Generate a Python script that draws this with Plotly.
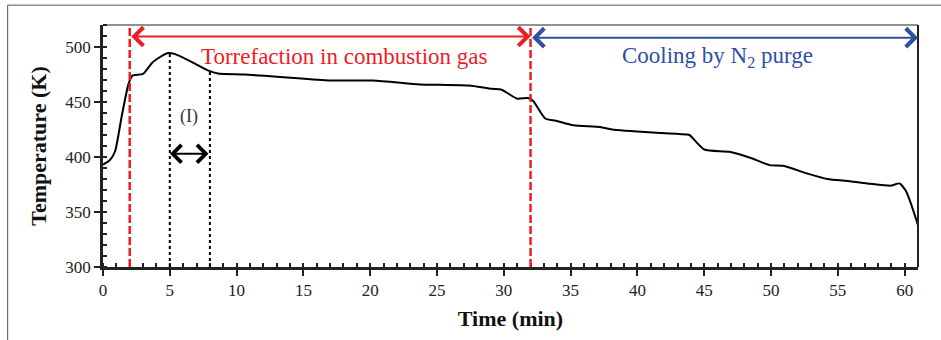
import plotly.graph_objects as go

# ---- data ----
time_min = [0, 0.5, 0.9, 1.4, 1.9, 2.2, 3.0, 3.7, 4.8, 5.4, 6.7, 7.9, 8.6, 10.6, 13.5, 17.0,
            20.2, 23.7, 25.2, 27.4, 29.1, 29.8, 31.0, 31.8, 32.2, 33.1, 33.9, 35.2, 37.2, 38.1,
            41.4, 43.7, 43.9, 45.0, 46.9, 48.6, 49.9, 50.9, 52.7, 54.2, 55.9, 57.4, 59.0,
            59.6, 60.1, 61.0]
temp_K = [393, 397, 405, 437, 466, 474, 475.5, 486, 494.3, 493.5, 486, 478.5, 476, 475, 472.5,
          469.5, 469.5, 466, 465.6, 465, 462, 461.4, 453, 453.6, 451, 435, 433, 428.8, 427.3,
          425, 422, 420.4, 420, 406.8, 404.7, 398.6, 392.6, 392, 385, 380, 378, 375.7, 374,
          376, 369, 338]

phase_bounds = [2, 32, 61]          # torrefaction start, cooling start, end
region_I = [5, 8]                   # region (I) boundaries
region_I_top = [494.3, 478.5]
x_ticks = list(range(0, 61, 5))
y_ticks = list(range(300, 501, 50))

RED = "#EE1C25"
BLUE = "#2E4FA3"
SERIF = "Liberation Serif, Times New Roman, serif"

fig = go.Figure()
fig.add_trace(go.Scatter(x=time_min, y=temp_K, mode="lines",
                         line=dict(color="black", width=2, shape="spline", smoothing=0.6),
                         showlegend=False, hoverinfo="skip"))

shapes = []
# red dashed phase boundaries
for xv in phase_bounds[:2]:
    shapes.append(dict(type="line", xref="x", yref="paper", x0=xv, x1=xv, y0=0, y1=1,
                       line=dict(color=RED, width=2.5, dash="8px,3px")))
# dotted region (I) lines
for xv, yt in zip(region_I, region_I_top):
    shapes.append(dict(type="line", xref="x", yref="y", x0=xv, x1=xv, y0=300, y1=yt,
                       line=dict(color="black", width=2, dash="dot")))
# top (thin) and right plot borders
shapes.append(dict(type="line", xref="paper", yref="paper", x0=0, x1=1, y0=1, y1=1,
                   line=dict(color="#222", width=1)))
shapes.append(dict(type="line", xref="paper", yref="paper", x0=1, x1=1, y0=0, y1=1,
                   line=dict(color="#222", width=2)))
# outer frame (top + left)
shapes.append(dict(type="line", xref="paper", yref="paper", x0=-0.117, x1=1.1, y0=1.082, y1=1.082,
                   line=dict(color="#555", width=1)))
shapes.append(dict(type="line", xref="paper", yref="paper", x0=-0.117, x1=-0.117, y0=1.082, y1=-0.4,
                   line=dict(color="#555", width=1)))

annotations = []
def darrow(x0, x1, y, color, size=1.8, width=2):
    annotations.append(dict(x=x1, y=y, ax=x0, ay=y, xref="x", yref="y", axref="x", ayref="y",
                            text="", showarrow=True, arrowhead=4, startarrowhead=4,
                            arrowside="end+start", arrowsize=size, startarrowsize=size,
                            arrowwidth=width, arrowcolor=color, standoff=0, startstandoff=0))

darrow(phase_bounds[0], phase_bounds[1], 509.5, RED)
darrow(phase_bounds[1], phase_bounds[2], 508.5, BLUE)
darrow(4.9, 7.9, 403, "black", size=1.7)

annotations.append(dict(x=18.1, y=491, xref="x", yref="y", text="Torrefaction in combustion gas",
                        showarrow=False, font=dict(family=SERIF, size=23, color=RED)))
annotations.append(dict(x=46.0, y=491, xref="x", yref="y", text="Cooling by N<sub>2</sub> purge",
                        showarrow=False, font=dict(family=SERIF, size=23, color=BLUE)))
annotations.append(dict(x=6.4, y=437, xref="x", yref="y", text="(I)",
                        showarrow=False, font=dict(family=SERIF, size=18, color="#333")))

fig.update_layout(
    width=941, height=340,
    margin=dict(l=103, r=23, t=25, b=71),
    paper_bgcolor="white", plot_bgcolor="white",
    shapes=shapes, annotations=annotations,
    font=dict(family=SERIF, size=17, color="#222"),
)
fig.update_xaxes(range=[0, 61], tickvals=x_ticks, showgrid=False, zeroline=False,
                 showline=True, linecolor="#222", linewidth=2.5,
                 ticks="outside", ticklen=6, tickwidth=2, tickcolor="#222",
                 minor=dict(dtick=1, ticks="inside", ticklen=4, tickwidth=2, tickcolor="#222"),
                 tickfont=dict(family=SERIF, size=17, color="#222"),
                 title=dict(text="<b>Time (min)</b>", font=dict(family=SERIF, size=22, color="#111"),
                            standoff=12))
fig.update_yaxes(range=[300, 520], tickvals=y_ticks, showgrid=False, zeroline=False,
                 showline=True, linecolor="#222", linewidth=2.5,
                 ticks="outside", ticklen=6, tickwidth=2, tickcolor="#222",
                 minor=dict(dtick=10, ticks="inside", ticklen=4, tickwidth=2, tickcolor="#222"),
                 tickfont=dict(family=SERIF, size=17, color="#222"),
                 title=dict(text="<b>Temperature (K)</b>", font=dict(family=SERIF, size=22, color="#111"),
                            standoff=13))

fig.write_html("out.html", config={"displayModeBar": False},
               post_script="document.body.style.margin='0px';")
